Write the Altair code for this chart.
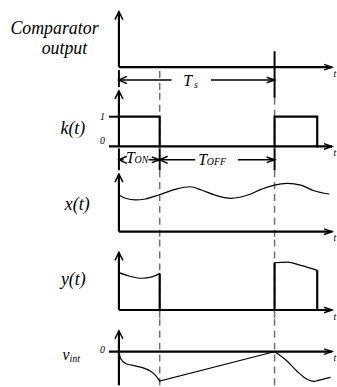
import altair as alt
import pandas as pd

# ---- time base: one switching period Ts = 1 ----
T_ON = 0.262        # end of the on-interval
T_S = 1.0           # end of the period
T_ON2 = 1.274       # end of the next on-interval
T_AXIS = 1.369      # end of every time axis
T_TLABEL = 1.378
X_DOMAIN = [-0.764, 1.382]

FONT = "Liberation Serif, Times New Roman, serif"
INK = "#000000"
DASH_COLOR = "#6e6e6e"
W = 337

# panel heights (px) and their y domains (signal units)
P_HEIGHT = [92, 78, 70, 80, 67]
P_YDOM = [[-0.867, 2.2], [-0.8, 1.8], [-0.267, 2.067], [-0.3, 2.367], [-1.133, 1.1]]

# comparator output pulse at the end of the period
comp_pulse_t = [T_S]
comp_pulse_v = [0.533]

# switching function k(t)
k_t = [0, T_ON, T_ON, T_S, T_S, T_ON2, T_ON2]
k_v = [1, 1, 0, 0, 1, 1, 0]
k_seg = [0, 0, 0, 1, 1, 1, 1]

# input signal x(t)
x_t = [0, 0.0425, 0.106, 0.170, 0.255, 0.361, 0.457, 0.531, 0.616, 0.722,
       0.828, 0.913, 0.998, 1.083, 1.168, 1.253, 1.348]
x_v = [1.233, 1.122, 1.067, 1.1, 1.233, 1.422, 1.511, 1.4, 1.233, 1.122,
       1.233, 1.422, 1.567, 1.622, 1.567, 1.377, 1.267]

# chopped signal y(t) = k(t) x(t), tops of the two on-intervals
y1_t = [0, 0.064, 0.149, 0.212, T_ON]
y1_v = [1.256, 1.144, 1.067, 1.111, 1.222]
y2_t = [T_S, 1.083, 1.168, T_ON2]
y2_v = [1.589, 1.611, 1.5, 1.333]

# integrator output v_int
v1_t = [0, 0.011, 0.043, 0.083, 0.191, 0.234, T_ON]
v1_v = [0, -0.233, -0.4, -0.456, -0.623, -0.79, -0.99]
vramp_t = [T_ON, T_S]
vramp_v = [-0.99, 0]
v2_t = [T_S, 1.083, 1.146, 1.191, 1.255, 1.274, 1.357]
v2_v = [0, -0.333, -0.667, -0.867, -1.0, -0.978, -0.867]

XS = alt.Scale(domain=X_DOMAIN, nice=False, zero=False)

ARROW = {
    "up": "M-0.5,1L0,0L0.5,1",
    "right": "M-1,-0.35L0,0L-1,0.35",
    "left": "M1,-0.45L0,0L1,0.45",
}


def ysc(dom):
    return alt.Scale(domain=dom, nice=False, zero=False)


def segs(rows, dom, width=2.0, color=INK, dash=None):
    df = pd.DataFrame(rows, columns=["t", "t2", "v", "v2"])
    kw = dict(strokeWidth=width, color=color)
    if dash is not None:
        kw["strokeDash"] = dash
    return alt.Chart(df).mark_rule(**kw).encode(
        x=alt.X("t:Q", scale=XS, axis=None),
        x2="t2:Q",
        y=alt.Y("v:Q", scale=ysc(dom), axis=None),
        y2="v2:Q",
    )


def curve(ts, vs, dom, interp="monotone", width=1.2, seg=None):
    df = pd.DataFrame({"t": ts, "v": vs, "i": list(range(len(ts)))})
    enc = dict(
        x=alt.X("t:Q", scale=XS, axis=None),
        y=alt.Y("v:Q", scale=ysc(dom), axis=None),
        order="i:Q",
    )
    if seg is not None:
        df["seg"] = seg
        enc["detail"] = "seg:N"
    return alt.Chart(df).mark_line(
        interpolate=interp, strokeWidth=width, color=INK,
        strokeJoin="miter", strokeCap="square",
    ).encode(**enc)


def arrows(ts, vs, direction, dom, size=256):
    df = pd.DataFrame({"t": ts, "v": vs})
    return alt.Chart(df).mark_point(
        shape=ARROW[direction], size=size, filled=False,
        strokeWidth=1.5, color=INK, opacity=1,
    ).encode(
        x=alt.X("t:Q", scale=XS, axis=None),
        y=alt.Y("v:Q", scale=ysc(dom), axis=None),
    )


def texts(ts, vs, labels, dom, size, align="left", baseline="alphabetic"):
    df = pd.DataFrame({"t": ts, "v": vs, "label": labels})
    return alt.Chart(df).mark_text(
        font=FONT, fontStyle="italic", fontSize=size, color=INK,
        align=align, baseline=baseline,
    ).encode(
        x=alt.X("t:Q", scale=XS, axis=None),
        y=alt.Y("v:Q", scale=ysc(dom), axis=None),
        text="label:N",
    )


def dashed(rows, dom):
    return segs(rows, dom, width=1.5, color=DASH_COLOR, dash=[7, 5])


def time_axes(dom, top, bottom=0.0, left=0.0):
    return [
        segs([(0, 0, bottom, top), (left, T_AXIS, 0, 0)], dom, width=2.2),
        arrows([0], [top], "up", dom),
        arrows([T_AXIS], [0], "right", dom),
        texts([T_TLABEL], [-0.23], ["t"], dom, 10, baseline="middle"),
    ]


# ---- panel 1: comparator output and the period Ts ----
d = P_YDOM[0]
p1 = alt.layer(
    dashed([(T_ON, T_ON, -0.133, d[0])], d),
    *time_axes(d, 1.867),
    segs([(t, t, v, -1.033) for t, v in zip(comp_pulse_t, comp_pulse_v)], d, width=2.0),
    segs([(0, 0, -0.1, -0.667)], d, width=2.0),
    segs([(0, 0.338, -0.433, -0.433), (0.592, T_S, -0.433, -0.433)], d, width=1.5),
    arrows([0], [-0.433], "left", d),
    arrows([T_S], [-0.433], "right", d),
    texts([0.414], [-0.633], ["T"], d, 16),
    texts([0.483], [-0.7], ["s"], d, 10),
    texts([-0.414], [1.1], ["Comparator"], d, 18, align="center"),
    texts([-0.350], [0.433], ["output"], d, 18, align="center"),
).properties(width=W, height=P_HEIGHT[0])

# ---- panel 2: switching function k(t), T_ON and T_OFF ----
d = P_YDOM[1]
p2 = alt.layer(
    dashed([(T_ON, T_ON, d[1], -0.067), (T_S, T_S, 1.633, -0.067)], d),
    *time_axes(d, 1.867, left=-0.064),
    segs([(-0.064, 0, 1, 1)], d, width=2.0),
    curve(k_t, k_v, d, interp="linear", width=2.2, seg=k_seg),
    segs([(0, 0, -0.067, -0.8), (T_ON, T_ON, -0.067, -0.8), (T_S, T_S, -0.067, -0.8)], d, width=2.0),
    segs([(0, 0.03, -0.45, -0.45), (0.19, T_ON, -0.45, -0.45),
          (T_ON, 0.49, -0.45, -0.45), (0.764, T_S, -0.45, -0.45)], d, width=1.5),
    arrows([0, T_ON], [-0.45, -0.45], "left", d),
    arrows([T_ON, T_S], [-0.45, -0.45], "right", d),
    texts([0.045], [-0.567], ["T"], d, 16),
    texts([0.1], [-0.567], ["ON"], d, 10),
    texts([0.51], [-0.633], ["T"], d, 16),
    texts([0.565], [-0.633], ["OFF"], d, 10),
    texts([-0.089, -0.089], [1, 0.167], ["1", "0"], d, 10, align="right", baseline="middle"),
    texts([-0.296], [0.433], ["k(t)"], d, 18, align="center"),
).properties(width=W, height=P_HEIGHT[1])

# ---- panel 3: input x(t) ----
d = P_YDOM[2]
p3 = alt.layer(
    dashed([(T_ON, T_ON, d[1], d[0]), (T_S, T_S, d[1], d[0])], d),
    *time_axes(d, 1.933),
    curve(x_t, x_v, d, width=1.2),
    texts([-0.268], [0.733], ["x(t)"], d, 18, align="center"),
).properties(width=W, height=P_HEIGHT[2])

# ---- panel 4: chopped signal y(t) ----
d = P_YDOM[3]
p4 = alt.layer(
    dashed([(T_ON, T_ON, d[1], d[0]), (T_S, T_S, d[1], d[0])], d),
    *time_axes(d, 1.933),
    curve(y1_t, y1_v, d, width=1.2),
    curve(y2_t, y2_v, d, width=1.2),
    segs([(T_ON, T_ON, y1_v[-1], 0), (T_S, T_S, 0, y2_v[0]), (T_ON2, T_ON2, y2_v[-1], 0)], d, width=2.2),
    texts([-0.293], [0.833], ["y(t)"], d, 18, align="center"),
).properties(width=W, height=P_HEIGHT[3])

# ---- panel 5: integrator output v_int ----
d = P_YDOM[4]
p5 = alt.layer(
    dashed([(T_ON, T_ON, d[1], d[0]), (T_S, T_S, d[1], d[0])], d),
    *time_axes(d, 0.7, bottom=d[0], left=-0.064),
    curve(v1_t, v1_v, d, width=1.2),
    curve(vramp_t, vramp_v, d, interp="linear", width=1.2),
    curve(v2_t, v2_v, d, width=1.2),
    texts([-0.089], [0.067], ["0"], d, 10, align="right", baseline="middle"),
    texts([-0.363], [-0.267], ["v"], d, 16),
    texts([-0.318], [-0.333], ["int"], d, 10),
).properties(width=W, height=P_HEIGHT[4])

chart = (
    alt.vconcat(p1, p2, p3, p4, p5, spacing=0, bounds="flush")
    .resolve_scale(x="independent", y="independent")
    .properties(padding=0, background="white")
    .configure_view(stroke=None)
)

chart.save("out.html", embed_options={"renderer": "svg", "actions": False})
